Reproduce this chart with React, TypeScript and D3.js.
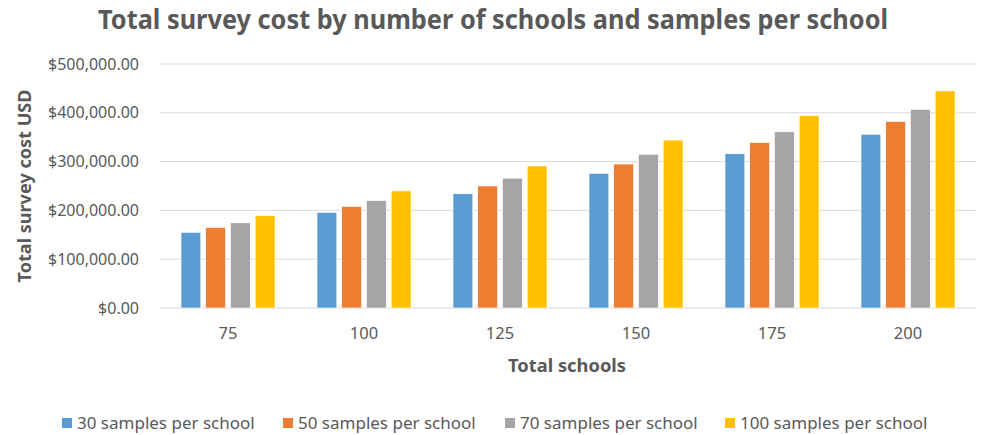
import React from "react";
import * as d3 from "d3";

const categories = ["75", "100", "125", "150", "175", "200"];
const seriesNames = [
  "30 samples per school",
  "50 samples per school",
  "70 samples per school",
  "100 samples per school",
];
const samples30 = [155000, 196000, 234000, 276000, 316000, 356000];
const samples50 = [165000, 208000, 250000, 295000, 339000, 382000];
const samples70 = [174500, 220000, 266000, 315000, 361000, 407000];
const samples100 = [189000, 240000, 291000, 344000, 394000, 445000];
const yTicks = [0, 100000, 200000, 300000, 400000, 500000];
const colors = ["#5B9BD5", "#ED7D31", "#A5A5A5", "#FFC000"];

const seriesValues = [samples30, samples50, samples70, samples100];

const W = 982;
const H = 435;
const plot = { left: 160, right: 976, top: 64, bottom: 308 };
const FONT = "'Noto Sans', 'Open Sans', sans-serif";
const TEXT = "#595959";

export default function App() {
  const x0 = d3
    .scaleBand<string>()
    .domain(categories)
    .range([plot.left, plot.right])
    .paddingInner(0.309)
    .paddingOuter(0.1545);
  const x1 = d3
    .scaleBand<string>()
    .domain(seriesNames)
    .range([0, x0.bandwidth()])
    .paddingInner(0.2);
  const y = d3.scaleLinear().domain([0, 500000]).range([plot.bottom, plot.top]);
  const fmt = (v: number) => "$" + d3.format(",.2f")(v);

  const legendX = [62, 283, 505, 725];

  return (
    <svg
      width={W}
      height={H}
      style={{ position: "absolute", left: 0, top: 0, background: "#fff" }}
      fontFamily={FONT}
    >
      <rect x={0} y={0} width={W} height={H} fill="#fff" />
      <text
        x={493}
        y={29}
        textAnchor="middle"
        fontSize={26}
        fontWeight="bold"
        fill={TEXT}
        textLength={790}
        lengthAdjust="spacingAndGlyphs"
      >
        Total survey cost by number of schools and samples per school
      </text>

      {yTicks.map((t) => (
        <g key={t}>
          <line
            x1={plot.left}
            x2={plot.right}
            y1={y(t)}
            y2={y(t)}
            stroke="#D9D9D9"
            strokeWidth={1}
          />
          <text
            x={139}
            y={y(t)}
            dy="0.35em"
            textAnchor="end"
            fontSize={16}
            fill={TEXT}
          >
            {fmt(t)}
          </text>
        </g>
      ))}

      {categories.map((c, ci) => (
        <g key={c}>
          {seriesNames.map((s, si) => {
            const v = seriesValues[si][ci];
            return (
              <rect
                key={s}
                x={(x0(c) as number) + (x1(s) as number)}
                y={y(v)}
                width={x1.bandwidth()}
                height={y(0) - y(v)}
                fill={colors[si]}
                stroke="#fff"
                strokeWidth={0.6}
              />
            );
          })}
          <text
            x={(x0(c) as number) + x0.bandwidth() / 2}
            y={339}
            textAnchor="middle"
            fontSize={16.5}
            fill={TEXT}
          >
            {c}
          </text>
        </g>
      ))}

      <text
        x={(plot.left + plot.right) / 2 - 1}
        y={372}
        textAnchor="middle"
        fontSize={18}
        fontWeight="bold"
        fill={TEXT}
        textLength={118}
        lengthAdjust="spacingAndGlyphs"
      >
        Total schools
      </text>

      <text
        transform="translate(31,186) rotate(-90)"
        textAnchor="middle"
        fontSize={18}
        fontWeight="bold"
        fill={TEXT}
        textLength={193}
        lengthAdjust="spacingAndGlyphs"
      >
        Total survey cost USD
      </text>

      {seriesNames.map((s, si) => (
        <g key={s} transform={`translate(${legendX[si]},0)`}>
          <rect x={0} y={418} width={10} height={10} fill={colors[si]} />
          <text x={15} y={423} dy="0.35em" fontSize={17} fill={TEXT}>
            {s}
          </text>
        </g>
      ))}
    </svg>
  );
}
